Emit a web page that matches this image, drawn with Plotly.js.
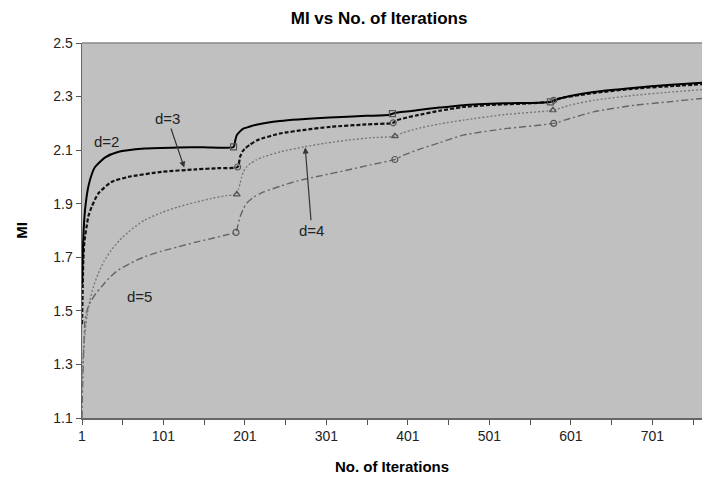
<!DOCTYPE html>
<html>
<head>
<meta charset="utf-8">
<script src="https://cdn.plot.ly/plotly-3.0.1.min.js"></script>
<style>html,body{margin:0;padding:0;background:#fff}#chart{width:702px;height:486px}</style>
</head>
<body>
<div id="chart"></div>
<script>
// d=2
const d2X = [1,2,3,4.7,8.7,13,17,29,45,78,119,150,187,189,191,195,199,205,215,244,305,350,379,382,395,412,440,469,520,576,590,629,680,720,762];
const d2Y = [1.60,1.72,1.80,1.876,1.963,2.01,2.037,2.072,2.093,2.106,2.110,2.111,2.112,2.135,2.156,2.170,2.180,2.186,2.195,2.209,2.222,2.228,2.232,2.236,2.243,2.249,2.259,2.268,2.275,2.280,2.295,2.317,2.333,2.343,2.352];
// d=3
const d3X = [1,2,2.6,4,6.6,9,12.8,21,37,58,99,140,170,192,195,198,201,207,216,244,275,306,350,383,386,400,412,440,469,510,547,578,585,629,680,720,762];
const d3Y = [1.45,1.60,1.69,1.76,1.814,1.855,1.888,1.938,1.981,2.000,2.019,2.028,2.033,2.037,2.075,2.095,2.106,2.120,2.137,2.162,2.176,2.187,2.196,2.202,2.210,2.222,2.230,2.247,2.261,2.270,2.274,2.282,2.292,2.313,2.330,2.338,2.346];
// d=4
const d4X = [1,2,3,4.7,7,10.8,15,21,28,37,47,58,78,98,119,140,160,178,191,193,195,197,199,203,207.5,215,224,245,273,300,326,355,385,395,412,440,469,520,579,600,629,680,720,762];
const d4Y = [1.20,1.30,1.36,1.416,1.48,1.54,1.59,1.64,1.685,1.727,1.763,1.795,1.839,1.866,1.888,1.905,1.920,1.930,1.935,1.955,1.975,2.000,2.019,2.037,2.050,2.064,2.075,2.094,2.112,2.126,2.137,2.146,2.152,2.165,2.180,2.198,2.212,2.233,2.249,2.268,2.286,2.305,2.316,2.326];
// d=5
const d5X = [1,2,3,4.7,8,12.8,18,25,35,45.5,60,78,98,119,140,160,180,190,192,195,199,203,212,224,245,265,295,326,355,385,395,412,440,469,520,580,600,629,680,720,762];
const d5Y = [1.10,1.25,1.34,1.466,1.51,1.54,1.565,1.59,1.625,1.652,1.677,1.702,1.722,1.739,1.756,1.770,1.785,1.793,1.815,1.851,1.880,1.901,1.925,1.944,1.966,1.985,2.005,2.025,2.045,2.065,2.080,2.100,2.128,2.156,2.180,2.200,2.218,2.243,2.268,2.280,2.293];

// marker points
const d2MX = [187,382,576], d2MY = [2.112,2.236,2.280];
const d3MX = [192,383,580], d3MY = [2.037,2.202,2.286];
const d4MX = [191,385,579], d4MY = [1.935,2.152,2.249];
const d5MX = [190,385,580], d5MY = [1.793,2.065,2.200];

const xTickVals = [1,101,201,301,401,501,601,701];
const xTickText = ['1','101','201','301','401','501','601','701'];
const yTickVals = [1.1,1.3,1.5,1.7,1.9,2.1,2.3,2.5];
const yTickText = ['1.1','1.3','1.5','1.7','1.9','2.1','2.3','2.5'];

const traces = [
  {x:d5X,y:d5Y,mode:'lines',line:{color:'#666',width:1.4,dash:'7px,3px,2px,3px',shape:'spline',smoothing:0.6}},
  {x:d4X,y:d4Y,mode:'lines',line:{color:'#777',width:1.4,dash:'2px,2px',shape:'spline',smoothing:0.6}},
  {x:d3X,y:d3Y,mode:'lines',line:{color:'#111',width:2.2,dash:'4px,2px',shape:'spline',smoothing:0.6}},
  {x:d2X,y:d2Y,mode:'lines',line:{color:'#000',width:2,shape:'spline',smoothing:0.6}},
  {x:d5MX,y:d5MY,mode:'markers',marker:{symbol:'circle-open',size:6,color:'#555',line:{width:1.2}}},
  {x:d4MX,y:d4MY,mode:'markers',marker:{symbol:'triangle-up-open',size:6,color:'#555',line:{width:1.2}}},
  {x:d3MX,y:d3MY,mode:'markers',marker:{symbol:'circle-open',size:6,color:'#555',line:{width:1.2}}},
  {x:d2MX,y:d2MY,mode:'markers',marker:{symbol:'square-open',size:6,color:'#555',line:{width:1.2}}}
];

const annFont = {family:'Liberation Sans, Arial, sans-serif',size:15,color:'#222'};
const layout = {
  width:702,height:486,
  margin:{l:82,r:0,t:43,b:68},
  paper_bgcolor:'#fff',plot_bgcolor:'#c0c0c0',
  showlegend:false,
  font:{family:'Liberation Sans, Arial, sans-serif',size:14,color:'#222'},
  title:{text:'<b>MI vs No. of Iterations</b>',x:0.54,xanchor:'center',y:0.963,yanchor:'middle',font:{size:17,color:'#000'}},
  xaxis:{range:[1,762],tickvals:xTickVals,ticktext:xTickText,ticks:'outside',ticklen:5,tickcolor:'#555',
    showline:true,linecolor:'#666',linewidth:1.5,showgrid:false,zeroline:false,
    minor:{tick0:1,dtick:50,ticks:'outside',ticklen:5,tickcolor:'#555',showgrid:false},
    tickfont:{size:14,color:'#222'},
    title:{text:'<b>No. of Iterations</b>',font:{size:15,color:'#000'},standoff:18}},
  yaxis:{range:[1.1,2.5],tickvals:yTickVals,ticktext:yTickText,ticks:'outside',ticklen:5,tickcolor:'#555',
    showline:true,linecolor:'#666',linewidth:1.5,showgrid:false,zeroline:false,mirror:false,
    tickfont:{size:14,color:'#222'},
    title:{text:'<b>MI</b>',font:{size:15,color:'#000'},standoff:22}},
  shapes:[{type:'line',xref:'paper',yref:'paper',x0:0,x1:1,y0:1,y1:1,line:{color:'#888',width:1.5}}],
  annotations:[
    {x:31,y:2.131,text:'d=2',showarrow:false,font:annFont},
    {x:71.3,y:1.555,text:'d=5',showarrow:false,font:annFont},
    {x:126.5,y:2.035,ax:106,ay:2.218,axref:'x',ayref:'y',text:'d=3',showarrow:true,arrowhead:2,arrowsize:1,arrowwidth:1.2,arrowcolor:'#333',font:annFont},
    {x:275,y:2.11,ax:283,ay:1.801,axref:'x',ayref:'y',text:'d=4',showarrow:true,arrowhead:2,arrowsize:1,arrowwidth:1.2,arrowcolor:'#333',font:annFont}
  ]
};
Plotly.newPlot('chart',traces,layout,{displayModeBar:false,staticPlot:true});
</script>
</body>
</html>
